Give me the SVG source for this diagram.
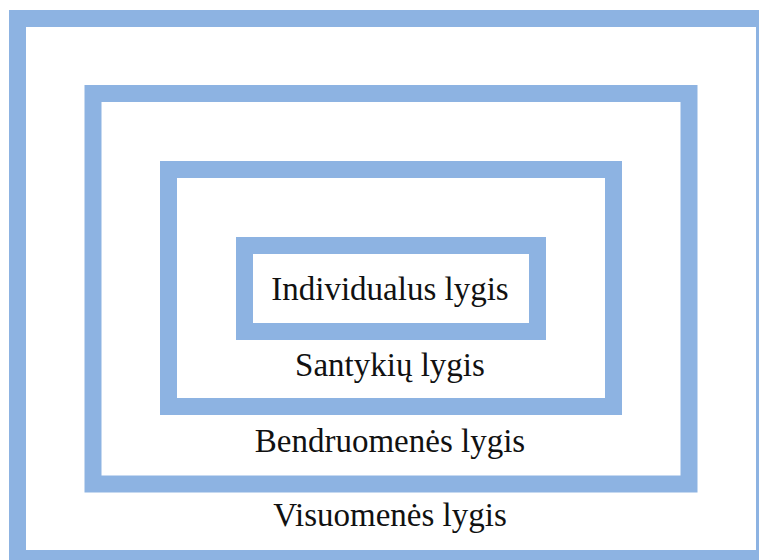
<svg xmlns="http://www.w3.org/2000/svg" width="759" height="560" viewBox="0 0 759 560">
<style>
.b{fill:none;stroke:#8DB3E2;stroke-width:17}
.t{font-family:"Liberation Serif","Times New Roman",serif;font-size:33px;fill:#111;text-anchor:middle}
</style>
<rect width="759" height="560" fill="#fff"/>
<g id="visuomenes">
<rect class="b" x="17.5" y="18.5" width="747" height="540"/>
<text class="t" x="390" y="526">Visuomenės lygis</text>
</g>
<g id="bendruomenes">
<rect class="b" x="93" y="93.5" width="596" height="390.5"/>
<text class="t" x="390" y="452">Bendruomenės lygis</text>
</g>
<g id="santykiu">
<rect class="b" x="168.5" y="169.5" width="445" height="237"/>
<text class="t" x="390" y="376">Santykių lygis</text>
</g>
<g id="individualus">
<rect class="b" x="244.5" y="245.5" width="293" height="86"/>
<text class="t" x="390" y="300">Individualus lygis</text>
</g>
<g id="connectors"/>
</svg>
